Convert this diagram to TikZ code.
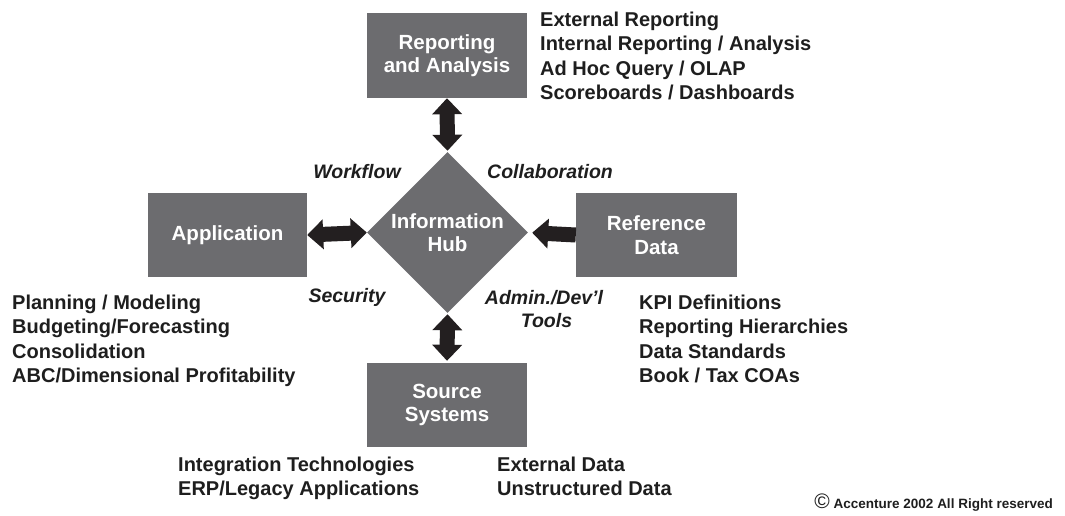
\documentclass[tikz,border=0pt]{standalone}
\usepackage{fontspec}
\setmainfont{Liberation Sans}
\usetikzlibrary{shapes.geometric,arrows.meta}
\definecolor{boxgray}{RGB}{108,108,111}
\definecolor{arrowdark}{RGB}{35,31,32}
\definecolor{txt}{RGB}{30,30,30}
\begin{document}
\begin{tikzpicture}[x=1pt,y=-1pt,
  font=\fontsize{20}{24.2}\selectfont\bfseries,
  box/.style={fill=boxgray,draw=none,minimum width=160pt,minimum height=84pt,inner sep=0pt,text=white,align=center,font=\fontsize{20.5}{23.5}\selectfont\bfseries},
  hubshape/.style={diamond,fill=boxgray,draw=none,minimum width=161pt,minimum height=161pt,inner sep=0pt,aspect=1},
  fat/.style={draw=arrowdark,line width=15pt},
  both/.style={fat,{Triangle[length=16pt,width=29pt]}-{Triangle[length=16pt,width=29pt]}},
  single/.style={fat,-{Triangle[length=16pt,width=29pt]}},
  list/.style={anchor=north west,align=left,text=txt,inner sep=0pt},
  tag/.style={text=txt,align=center,inner sep=0pt,font=\fontsize{19.5}{23.5}\selectfont\bfseries\itshape}
]
\useasboundingbox (0,0) rectangle (1065,515);

\node[box,minimum height=85pt] (rep) at (447,55.5) {Reporting\\and Analysis};
\node[box,minimum width=159pt] (app) at (227.5,235) {Application};
\node[box,minimum width=161pt] (ref) at (656.5,235) {Reference\\Data};
\node[box] (src) at (447,405) {Source\\Systems};
\node[hubshape,label={[text=white,align=center,inner sep=0pt,font=\fontsize{20.5}{23.5}\selectfont\bfseries]center:Information\\Hub}] (hub) at (447.5,232.5) {};

\draw[both,shorten >=1pt] (rep.south) -- (hub.north);
\draw[both] (app.east) -- (hub.west);
\draw[single,shorten >=4pt] (ref.west) -- (hub.east);
\draw[both,shorten <=1pt,shorten >=2pt] (hub.south) -- (src.north);

\node[tag] (wf) at (357,172) {Workflow};
\node[tag] (co) at (550,172) {Collaboration};
\node[tag] (se) at (347,297) {Security};
\node[tag] (ad) at (544,309) {Admin./Dev'l\\\hspace*{5pt}Tools};

\node[list] (replist) at (540,12) {External Reporting\\Internal Reporting / Analysis\\Ad Hoc Query / OLAP\\Scoreboards / Dashboards};
\node[list] (applist) at (12,295) {Planning / Modeling\\Budgeting/Forecasting\\Consolidation\\ABC/Dimensional Profitability};
\node[list] (reflist) at (639,295) {KPI Definitions\\Reporting Hierarchies\\Data Standards\\Book / Tax COAs};
\node[list] (srclist1) at (178,457) {Integration Technologies\\ERP/Legacy Applications};
\node[list] (srclist2) at (497,457) {External Data\\Unstructured Data};

\node[anchor=base east,inner sep=0pt,text=txt,font=\fontsize{13.5}{16}\selectfont\bfseries] (copy) at (1053,508) {{\fontsize{21}{21}\selectfont\mdseries\textcopyright}\ Accenture 2002 All Right reserved};
\end{tikzpicture}
\end{document}
